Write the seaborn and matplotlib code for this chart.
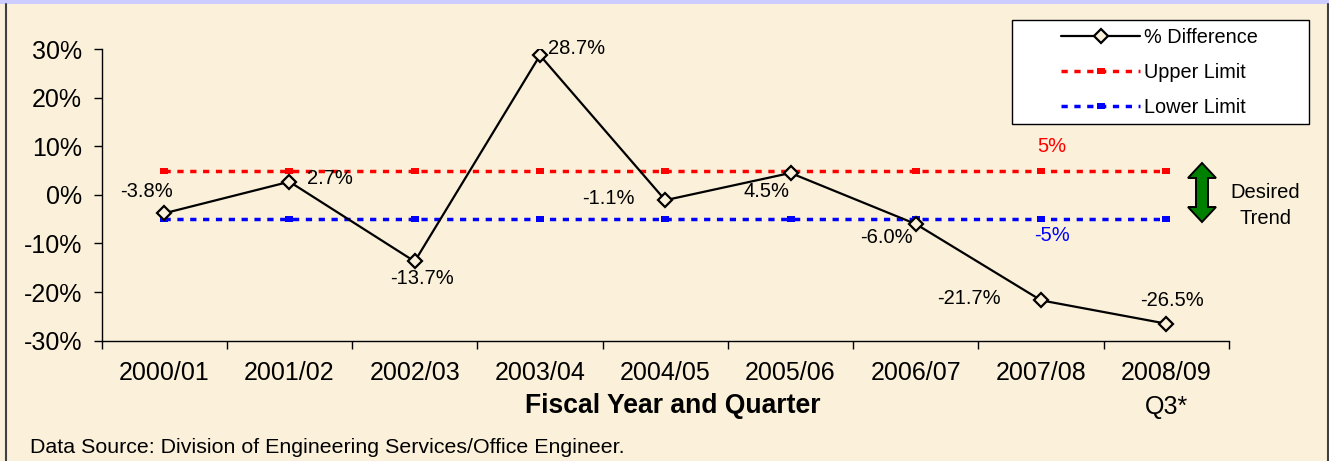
import numpy as np
import pandas as pd
import matplotlib
matplotlib.use("Agg")
import matplotlib.pyplot as plt
from matplotlib.patches import Rectangle, Polygon
from matplotlib.ticker import FixedLocator, NullFormatter, FixedFormatter
import seaborn as sns

# ---- data -------------------------------------------------------------
categories = ["2000/01", "2001/02", "2002/03", "2003/04", "2004/05",
              "2005/06", "2006/07", "2007/08", "2008/09\nQ3*"]
pct_difference = [-3.8, 2.7, -13.7, 28.7, -1.1, 4.5, -6.0, -21.7, -26.5]
upper_limit = [5] * len(categories)
lower_limit = [-5] * len(categories)
y_ticks = [-30, -20, -10, 0, 10, 20, 30]

# label offsets (points) for the value annotations
label_offsets = [(-13, 16), (29, 2), (5, -12), (26, 5), (-41, 1),
                 (-17, -13), (-21, -10), (-52, 1), (4, 17)]

# ---- style ------------------------------------------------------------
sns.set_style("ticks")
plt.rcParams["font.family"] = ["Liberation Sans", "DejaVu Sans"]
for key in ("text.color", "axes.labelcolor", "xtick.color", "ytick.color"):
    plt.rcParams[key] = "black"

BG = "#FBF1DA"
W, H = 1329, 461
fig = plt.figure(figsize=(W / 100, H / 100), dpi=100, facecolor=BG)


def fx(px):
    return px / W


def fy(py):
    return 1 - py / H


# outer frame: lavender strip on top, dark side borders
fig.add_artist(Rectangle((0, fy(4.5)), 1, 4.5 / H, transform=fig.transFigure,
                         facecolor="#CCCCFF", edgecolor="none", zorder=-5))
fig.add_artist(plt.Line2D([fx(5.5), fx(5.5)], [0, fy(4.5)], transform=fig.transFigure,
                          color="#404040", lw=1.5, zorder=-4))
fig.add_artist(plt.Line2D([fx(1327.5), fx(1327.5)], [0, fy(4.5)], transform=fig.transFigure,
                          color="#404040", lw=1.5, zorder=-4))

ax = fig.add_axes([fx(101.5), fy(340.7), fx(1229) - fx(101.5), fy(49) - fy(340.7)])
ax.set_facecolor("none")

pos = np.arange(len(categories))

# flat rectangular marker used on the limit lines
flat_box = [(-1.6, -1.0), (1.6, -1.0), (1.6, 1.0), (-1.6, 1.0), (-1.6, -1.0)]
limit_style = dict(lw=2.5, linestyle=(0, (1.8, 1.9)), marker=flat_box,
                   markersize=6.0, markeredgewidth=0)

sns.lineplot(x=pos, y=upper_limit, ax=ax, color="red", label="Upper Limit",
             **limit_style)
sns.lineplot(x=pos, y=lower_limit, ax=ax, color="blue", label="Lower Limit",
             **limit_style)
sns.lineplot(x=pos, y=pct_difference, ax=ax, color="black", lw=1.6,
             marker="D", markersize=7.5, markerfacecolor=BG,
             markeredgecolor="black", markeredgewidth=1.6,
             label="% Difference")

for xi, v, (dx, dy) in zip(pos, pct_difference, label_offsets):
    ax.annotate(f"{v:.1f}%", (xi, v), xytext=(dx, dy), textcoords="offset points",
                ha="center", va="center", fontsize=14.5, color="black")

ax.set_xlim(-0.5, len(categories) - 0.5)
ax.set_ylim(-30, 30)
ax.set_yticks(y_ticks)
ax.set_yticklabels([f"{t}%" for t in y_ticks])

ax.xaxis.set_major_locator(FixedLocator(np.arange(len(categories) + 1) - 0.5))
ax.xaxis.set_major_formatter(NullFormatter())
ax.xaxis.set_minor_locator(FixedLocator(pos))
ax.xaxis.set_minor_formatter(FixedFormatter(categories))
ax.tick_params(axis="x", which="major", length=6, width=1, direction="out", color="black")
ax.tick_params(axis="x", which="minor", length=0, pad=14.5, labelsize=18)
ax.tick_params(axis="y", length=6, width=1, direction="out", color="black", pad=8,
               labelsize=18)
for lbl in ax.xaxis.get_minorticklabels():
    lbl.set_linespacing(1.55)
    lbl.set_verticalalignment("top")

for side in ("top", "right"):
    ax.spines[side].set_visible(False)
for side in ("left", "bottom"):
    ax.spines[side].set_color("black")
    ax.spines[side].set_linewidth(1)
ax.set_xlabel("")
ax.set_ylabel("")

# legend in a white box
handles, labels = ax.get_legend_handles_labels()
order = [labels.index(n) for n in ["% Difference", "Upper Limit", "Lower Limit"]]
ax.get_legend().remove()
fig.add_artist(Rectangle((fx(1012), fy(124)), fx(1309) - fx(1012), (124 - 20) / H,
                         transform=fig.transFigure, facecolor="white",
                         edgecolor="black", lw=1, zorder=4))
fig.legend([handles[i] for i in order], [labels[i] for i in order],
           loc="upper left", bbox_to_anchor=(fx(1061), fy(28)),
           bbox_transform=fig.transFigure, frameon=False, borderpad=0,
           borderaxespad=0, handlelength=4.0, handletextpad=0.2,
           labelspacing=0.8, numpoints=1, fontsize=14.3)

# limit labels and desired-trend arrow
fig.text(fx(1052), fy(147), "5%", color="red", fontsize=14.5, ha="center", va="center")
fig.text(fx(1052), fy(235), "-5%", color="blue", fontsize=14.5, ha="center", va="center")
cx = 1202
arrow_px = [(cx, 163), (cx + 14, 178), (cx + 6, 178), (cx + 6, 207), (cx + 14, 207),
            (cx, 222), (cx - 14, 207), (cx - 6, 207), (cx - 6, 178), (cx - 14, 178)]
fig.add_artist(Polygon([(fx(x), fy(y)) for x, y in arrow_px], closed=True,
                       transform=fig.transFigure, facecolor="#008000",
                       edgecolor="black", lw=1.4, zorder=4))
fig.text(fx(1265), fy(193), "Desired", fontsize=14.5, ha="center", va="center")
fig.text(fx(1265), fy(218), "Trend", fontsize=14.5, ha="center", va="center")

fig.text(fx(673), fy(406), "Fiscal Year and Quarter", fontsize=19.1,
         fontweight="bold", ha="center", va="center")
fig.text(fx(30), fy(453), "Data Source: Division of Engineering Services/Office Engineer.",
         fontsize=15.4, ha="left", va="baseline")

fig.savefig("out.png", dpi=100, facecolor=BG)
